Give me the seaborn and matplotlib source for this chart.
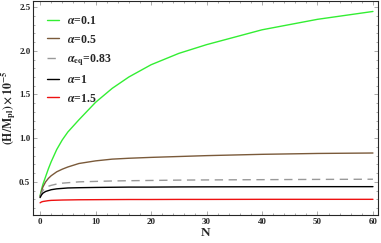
import matplotlib
matplotlib.use('Agg')
import matplotlib.pyplot as plt
from matplotlib.ticker import MultipleLocator
import seaborn as sns
import pandas as pd

# ── Data ──────────────────────────────────────────────────────────────────────
N = [0, 0.25, 0.5, 1, 1.5, 2, 3, 4, 5, 7, 10, 13, 16, 20, 25, 30, 40, 50, 60]

h_a01  = [0.34, 0.41, 0.47, 0.56, 0.65, 0.73, 0.87, 0.98, 1.07, 1.21, 1.41, 1.57, 1.70, 1.84, 1.97, 2.07, 2.24, 2.36, 2.45]
h_a05  = [0.33, 0.39, 0.44, 0.50, 0.54, 0.57, 0.615, 0.645, 0.67, 0.71, 0.74, 0.76, 0.77, 0.78, 0.79, 0.80, 0.815, 0.825, 0.83]
h_aeq  = [0.33, 0.37, 0.40, 0.43, 0.45, 0.46, 0.475, 0.485, 0.49, 0.50, 0.505, 0.51, 0.513, 0.516, 0.52, 0.522, 0.525, 0.528, 0.53]
h_a1   = [0.32, 0.35, 0.37, 0.39, 0.40, 0.41, 0.42, 0.425, 0.43, 0.433, 0.436, 0.438, 0.44, 0.44, 0.442, 0.443, 0.444, 0.445, 0.445]
h_a15  = [0.26, 0.27, 0.275, 0.28, 0.285, 0.288, 0.29, 0.292, 0.293, 0.295, 0.296, 0.297, 0.298, 0.298, 0.299, 0.299, 0.30, 0.30, 0.30]

labels = [r'$\boldsymbol{\alpha}$=0.1', r'$\boldsymbol{\alpha}$=0.5',
          r'$\boldsymbol{\alpha}_{\mathbf{eq}}$=0.83',
          r'$\boldsymbol{\alpha}$=1', r'$\boldsymbol{\alpha}$=1.5']
series = [h_a01, h_a05, h_aeq, h_a1, h_a15]
colors = ['#33ee33', '#7a5a3a', '#999999', '#000000', '#ee1111']

# ── Style ─────────────────────────────────────────────────────────────────────
sns.set_style('ticks')
plt.rcParams['font.family'] = ['Liberation Serif', 'DejaVu Serif']
plt.rcParams['mathtext.fontset'] = 'stix'

fig = plt.figure(figsize=(3.81, 2.43), dpi=100)
ax = fig.add_axes([0.087, 0.115, 0.905, 0.881])

for vals, lab, col in zip(series, labels, colors):
    df = pd.DataFrame({'N': N, 'H': vals})
    ls = '--' if 'eq' in lab else '-'
    sns.lineplot(data=df, x='N', y='H', ax=ax, color=col, lw=1.0,
                 linestyle=ls, label=lab)
ax.lines[2].set_dashes([6, 4])

ax.set_xlim(-1.25, 60.9)
ax.set_ylim(0.12, 2.57)
ax.xaxis.set_major_locator(MultipleLocator(10))
ax.xaxis.set_minor_locator(MultipleLocator(2))
ax.yaxis.set_major_locator(MultipleLocator(0.5))
ax.yaxis.set_minor_locator(MultipleLocator(0.1))
ax.tick_params(which='both', direction='in', top=True, right=True,
               labelsize=6.5, width=0.5, color='#888888', pad=2)
ax.tick_params(which='major', length=3)
ax.tick_params(which='minor', length=1.5)
for lbl in ax.get_xticklabels() + ax.get_yticklabels():
    lbl.set_fontweight('bold')
for sp in ax.spines.values():
    sp.set_linewidth(0.8)

ax.set_xlabel('N', fontsize=9.5, fontweight='bold', labelpad=1)
ax.set_ylabel(r'$\mathbf{(H/M_{pl})\times 10^{-5}}$', fontsize=8.5, labelpad=1)

leg = ax.legend(loc='upper left', frameon=False, fontsize=8.5, handlelength=1.0,
                handletextpad=0.7, labelspacing=0.55, borderaxespad=0.8,
                borderpad=0.4)
for t in leg.get_texts():
    t.set_fontweight('bold')

fig.savefig('out.png', dpi=100)
